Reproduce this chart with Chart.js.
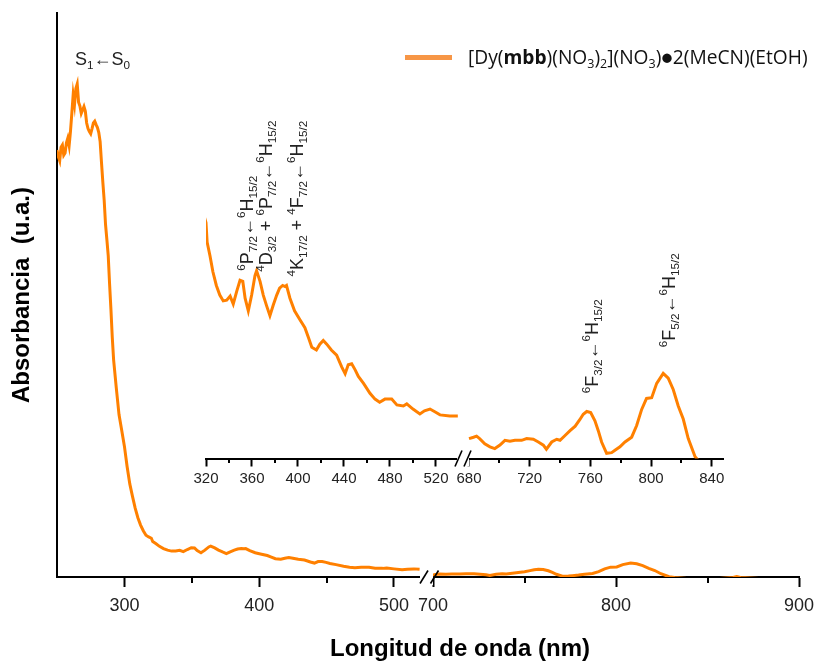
<!DOCTYPE html>
<html lang="es">
<head>
<meta charset="utf-8">
<title>Espectro de absorción</title>
<script src="https://cdn.jsdelivr.net/npm/chart.js@4.4.1/dist/chart.umd.min.js"></script>
<style>
  html, body { margin: 0; padding: 0; background: #fff; }
  #wrap { position: relative; width: 815px; height: 662px; overflow: hidden; }
  #main { position: absolute; left: 0; top: 0; }
  #inset { position: absolute; left: 150px; top: 95px; }
</style>
</head>
<body>
<div id="wrap">
  <canvas id="main" width="815" height="662"></canvas>
  <canvas id="inset" width="620" height="415"></canvas>
</div>
<script>
// ---- Spectrum: UV–visible part (nm, absorbance in arbitrary units) ----
const uvVisNm = [
  250, 251, 252, 253, 254, 255, 256, 257, 258, 259, 260, 261, 262, 263, 264, 265,
  266, 267, 268, 269, 270, 271, 272, 273, 274, 275, 276, 277, 278, 279, 280, 281,
  282, 283, 284, 285, 286, 287, 288, 289, 290, 291, 292, 294, 296, 298, 300, 302,
  304, 306, 308, 310, 312, 314, 316, 318,
  320, 321, 323.5, 326, 329, 332, 335, 338, 341, 343.7, 346.7, 349.6, 352, 354,
  356.8, 359.7, 362.6, 364, 367, 369.8, 372.8, 375.6, 378.5, 381.5, 384, 386.7,
  388.7, 390, 393, 397, 401.7, 406, 409, 412, 416, 419, 422, 425, 429, 433.6, 438,
  441, 443.7, 446.7, 449.6, 452.5, 457, 462.6, 467, 471, 475.6, 481.5, 486, 491.6,
  494.6, 500, 506, 510, 514.8, 519, 523.5, 532, 539
];
const uvVisAbs = [
  0.757, 0.745, 0.738, 0.762, 0.766, 0.748, 0.752, 0.770, 0.778, 0.765, 0.790, 0.822, 0.855, 0.838, 0.866, 0.874,
  0.842, 0.835, 0.822, 0.828, 0.834, 0.826, 0.805, 0.795, 0.790, 0.786, 0.795, 0.805, 0.808, 0.802, 0.797, 0.788,
  0.772, 0.735, 0.700, 0.668, 0.625, 0.598, 0.570, 0.520, 0.475, 0.425, 0.385, 0.335, 0.288, 0.260, 0.232, 0.196,
  0.165, 0.143, 0.122, 0.105, 0.092, 0.082, 0.074, 0.071,
  0.0687, 0.0630, 0.0590, 0.0544, 0.0504, 0.0476, 0.0459, 0.0461, 0.0473, 0.0450, 0.0487, 0.0519, 0.0516, 0.0467,
  0.0430, 0.0476, 0.0533, 0.0547, 0.0516, 0.0476, 0.0444, 0.0416, 0.0447, 0.0476, 0.0496, 0.0504,
  0.0501, 0.0504, 0.0467, 0.0430, 0.0404, 0.0381, 0.0353, 0.0324, 0.0316, 0.0333, 0.0344, 0.0333, 0.0316, 0.0301, 0.0267,
  0.0247, 0.0273, 0.0276, 0.0259, 0.0239, 0.0219, 0.0190, 0.0173, 0.0164, 0.0173, 0.0173, 0.0156, 0.0153,
  0.0159, 0.0144, 0.0130, 0.0139, 0.0144, 0.0136, 0.0127, 0.0124, 0.0124
];

// ---- Spectrum: near-infrared part ----
const nirNm = [
  680, 683, 685, 687, 690.4, 693.8, 697, 700.4, 703.7, 707, 710.3, 714.7, 718, 722.4,
  725.7, 729, 731, 734.5, 737.8, 740, 743.3, 746.6, 750, 753, 755.3, 757.6, 760.2, 763,
  765.2, 767.4, 770.7, 774, 776.2, 779.5, 782.8, 787.2, 790.5, 793.8, 797, 800.4, 803.7,
  808, 811.3, 814.6, 817.9, 821.2, 824.5, 829, 832, 840, 855, 864, 866, 868, 880, 900
];
const nirAbs = [
  0.0058, 0.0062, 0.0065, 0.0058, 0.0043, 0.0034, 0.0029, 0.0039, 0.0053, 0.0050, 0.0053, 0.0053, 0.0058, 0.0056,
  0.0048, 0.0039, 0.0027, 0.0048, 0.0056, 0.0053, 0.0067, 0.0081, 0.0094, 0.0113, 0.0129, 0.0137, 0.0134, 0.0110,
  0.0081, 0.0048, 0.0015, 0.0017, 0.0024, 0.0034, 0.0048, 0.0062, 0.0096, 0.0143, 0.0175, 0.0177, 0.0219,
  0.0248, 0.0234, 0.0201, 0.0153, 0.0115, 0.0058, 0.0005, -0.0010, -0.0030, -0.0030, -0.0010, 0.0008, -0.0010, -0.0030, -0.0030
];

// ---- Axis ticks ----
const mainTicksUv = [300, 400, 500];
const mainMinorUv = [350, 450];
const mainTicksNir = [700, 800, 900];
const mainMinorNir = [750, 850];
const insetTicksUv = [320, 360, 400, 440, 480, 520];
const insetMinorUv = [340, 380, 420, 460, 500];
const insetTicksNir = [680, 720, 760, 800, 840];
const insetMinorNir = [700, 740, 780, 820];

// ---- Texts (^{..} superscript, _{..} subscript, **..** bold) ----
const seriesName = '[Dy(**mbb**)(NO_{3})_{2}](NO_{3})●2(MeCN)(EtOH)';
const bandS1 = { text: 'S_{1}←S_{0}', nm: 263.3, abs: 0.907 };
const insetBands = [
  { text: '^{6}P_{7/2}←^{6}H_{15/2}', axis: 'xUv', nm: 360.9, abs: 0.0547 },
  { text: '^{4}D_{3/2} + ^{6}P_{7/2}←^{6}H_{15/2}', axis: 'xUv', nm: 377.4, abs: 0.0544 },
  { text: '^{4}K_{17/2} + ^{4}F_{7/2}←^{6}H_{15/2}', axis: 'xUv', nm: 404.3, abs: 0.0530 },
  { text: '^{6}F_{3/2}←^{6}H_{15/2}', axis: 'xNir', nm: 765.0, abs: 0.0190 },
  { text: '^{6}F_{5/2}←^{6}H_{15/2}', axis: 'xNir', nm: 815.8, abs: 0.0324 }
];

const LINE_COLOR = '#ff8000';
const LEGEND_COLOR = '#f79646';
const SANS = "'Liberation Sans', Arial, sans-serif";
const INK = '#222';

const toPoints = (xs, ys) => xs.map((x, i) => ({ x, y: ys[i] }));

// ---- small drawing helpers ----
function parseRich(str) {
  const runs = [];
  const re = /\^\{([^}]*)\}|_\{([^}]*)\}|\*\*([^*]*)\*\*|([^^_*]+)/g;
  let m;
  while ((m = re.exec(str))) {
    if (m[1] !== undefined) runs.push({ t: m[1], sup: true });
    else if (m[2] !== undefined) runs.push({ t: m[2], sub: true });
    else if (m[3] !== undefined) runs.push({ t: m[3], bold: true });
    else runs.push({ t: m[4] });
  }
  return runs;
}

function drawRich(ctx, str, x, y, o) {
  const size = o.size, family = o.family || SANS;
  ctx.save();
  ctx.translate(x, y);
  ctx.rotate(o.angle || 0);
  ctx.fillStyle = o.color || INK;
  ctx.textBaseline = 'alphabetic';
  ctx.textAlign = 'left';
  let cx = 0;
  for (const r of parseRich(str)) {
    const s = (r.sub || r.sup) ? size * 0.65 : size;
    ctx.font = (r.bold ? 'bold ' : '') + s + 'px ' + family;
    const dy = r.sub ? size * 0.22 : (r.sup ? -size * 0.42 : 0);
    ctx.fillText(r.t, cx, dy);
    cx += ctx.measureText(r.t).width;
  }
  ctx.restore();
  return cx;
}

function drawMinorTicks(ctx, scale, values, len, width) {
  ctx.save();
  ctx.strokeStyle = '#000';
  ctx.lineWidth = width;
  for (const v of values) {
    const x = Math.round(scale.getPixelForValue(v));
    ctx.beginPath();
    ctx.moveTo(x, scale.top);
    ctx.lineTo(x, scale.top + len);
    ctx.stroke();
  }
  ctx.restore();
}

// Broken-axis mark "//" where two stacked x scales meet
function drawAxisBreak(ctx, leftScale, o) {
  const b = leftScale.right, y = leftScale.top;
  ctx.save();
  ctx.fillStyle = '#fff';
  ctx.fillRect(b - o.gapL, y - o.up, o.gapL + o.gapR, o.up + o.down);
  ctx.strokeStyle = '#000';
  ctx.lineWidth = o.width;
  for (const c of o.slashes) {
    ctx.beginPath();
    ctx.moveTo(b + c - o.dx, y + o.dy);
    ctx.lineTo(b + c + o.dx, y - o.dy);
    ctx.stroke();
  }
  ctx.restore();
}

function xAxis(min, max, weight, ticks, o) {
  return {
    type: 'linear', position: 'bottom', stack: 'wavelength', stackWeight: weight,
    min, max,
    afterBuildTicks: s => { s.ticks = ticks.map(v => ({ value: v })); },
    // edge labels may overhang the plot area; the page margins already leave room
    afterFit: s => { s.paddingLeft = 0; s.paddingRight = 0; },
    ticks: { color: INK, font: { family: SANS, size: o.font }, padding: o.pad, maxRotation: 0, autoSkip: false },
    grid: { display: true, drawOnChartArea: false, drawTicks: true, tickLength: o.tick, tickWidth: 2, tickColor: '#000' },
    border: { display: true, color: '#000', width: 2 }
  };
}

function lineDataset(points, xAxisID) {
  return {
    label: seriesName, data: points, xAxisID, yAxisID: 'y',
    borderColor: LINE_COLOR, borderWidth: 3, pointRadius: 0, tension: 0, fill: false
  };
}

// ---- main plot ----
const mainDecor = {
  id: 'mainDecor',
  afterDraw(chart) {
    const { ctx, scales } = chart;
    drawMinorTicks(ctx, scales.xUv, mainMinorUv, 6, 2);
    drawMinorTicks(ctx, scales.xNir, mainMinorNir, 6, 2);
    drawAxisBreak(ctx, scales.xUv, { gapL: 5, gapR: 8, up: 10, down: 8, width: 1.6, dx: 4, dy: 6.5, slashes: [-1, 9.5] });

    // S1 <- S0 band label
    drawRich(ctx, bandS1.text, scales.xUv.getPixelForValue(bandS1.nm), scales.y.getPixelForValue(bandS1.abs), { size: 18 });

    // legend
    const lx = 405, ly = 57.5;
    ctx.save();
    ctx.strokeStyle = LEGEND_COLOR;
    ctx.lineWidth = 5;
    ctx.beginPath();
    ctx.moveTo(lx, ly);
    ctx.lineTo(lx + 47, ly);
    ctx.stroke();
    ctx.restore();
    drawRich(ctx, seriesName, 468, 63.5, { size: 19.2, family: "'Open Sans', Lato, sans-serif", color: '#111' });

    // x axis title
    ctx.save();
    ctx.font = 'bold 24px ' + SANS;
    ctx.fillStyle = '#000';
    ctx.textAlign = 'center';
    ctx.textBaseline = 'middle';
    ctx.fillText('Longitud de onda (nm)', 460, 649);
    ctx.restore();
  }
};

new Chart(document.getElementById('main'), {
  type: 'line',
  data: {
    datasets: [
      lineDataset(toPoints(uvVisNm, uvVisAbs).filter(p => p.x <= 520), 'xUv'),
      lineDataset(toPoints(nirNm, nirAbs), 'xNir')
    ]
  },
  options: {
    responsive: false,
    animation: false,
    events: [],
    layout: { padding: { left: 0, top: 13, right: 16, bottom: 37.4 } },
    plugins: { legend: { display: false }, tooltip: { enabled: false } },
    scales: {
      xUv: xAxis(250, 523, 368, mainTicksUv, { font: 18, pad: 8, tick: 10 }),
      xNir: xAxis(695.6, 900, 374, mainTicksNir, { font: 18, pad: 8, tick: 10 }),
      y: {
        type: 'linear', position: 'left', min: 0, max: 1,
        ticks: { display: false },
        grid: { display: false, drawTicks: false },
        border: { display: true, color: '#000', width: 2 },
        title: {
          display: true, text: 'Absorbancia  (u.a.)', color: '#000',
          font: { family: SANS, size: 24, weight: 'bold' },
          padding: { top: 7.6, bottom: 20.6 }
        }
      }
    }
  },
  plugins: [mainDecor]
});

// ---- inset: zoom on the Dy(III) f–f bands ----
const insetDecor = {
  id: 'insetDecor',
  afterDraw(chart) {
    const { ctx, scales } = chart;
    drawMinorTicks(ctx, scales.xUv, insetMinorUv, 4.5, 2);
    drawMinorTicks(ctx, scales.xNir, insetMinorNir, 4.5, 2);
    drawAxisBreak(ctx, scales.xUv, { gapL: 6, gapR: 6, up: 9, down: 8, width: 1.6, dx: 3.5, dy: 8, slashes: [-4.5, 4.5] });
    for (const b of insetBands) {
      drawRich(ctx, b.text, scales[b.axis].getPixelForValue(b.nm), scales.y.getPixelForValue(b.abs),
        { size: 18, angle: -Math.PI / 2 });
    }
  }
};

new Chart(document.getElementById('inset'), {
  type: 'line',
  data: {
    datasets: [
      lineDataset(toPoints(uvVisNm, uvVisAbs).filter(p => p.x >= 318), 'xUv'),
      lineDataset(toPoints(nirNm, nirAbs), 'xNir')
    ]
  },
  options: {
    responsive: false,
    animation: false,
    events: [],
    layout: { padding: { left: 56, top: 105, right: 47, bottom: 19.5 } },
    plugins: { legend: { display: false }, tooltip: { enabled: false } },
    scales: {
      xUv: xAxis(320, 543.5, 257, insetTicksUv, { font: 15, pad: 3, tick: 8 }),
      xNir: xAxis(676.05, 847.4, 260, insetTicksNir, { font: 15, pad: 3, tick: 8 }),
      y: { type: 'linear', display: false, min: 0, max: 0.0753 }
    }
  },
  plugins: [insetDecor]
});
</script>
</body>
</html>
